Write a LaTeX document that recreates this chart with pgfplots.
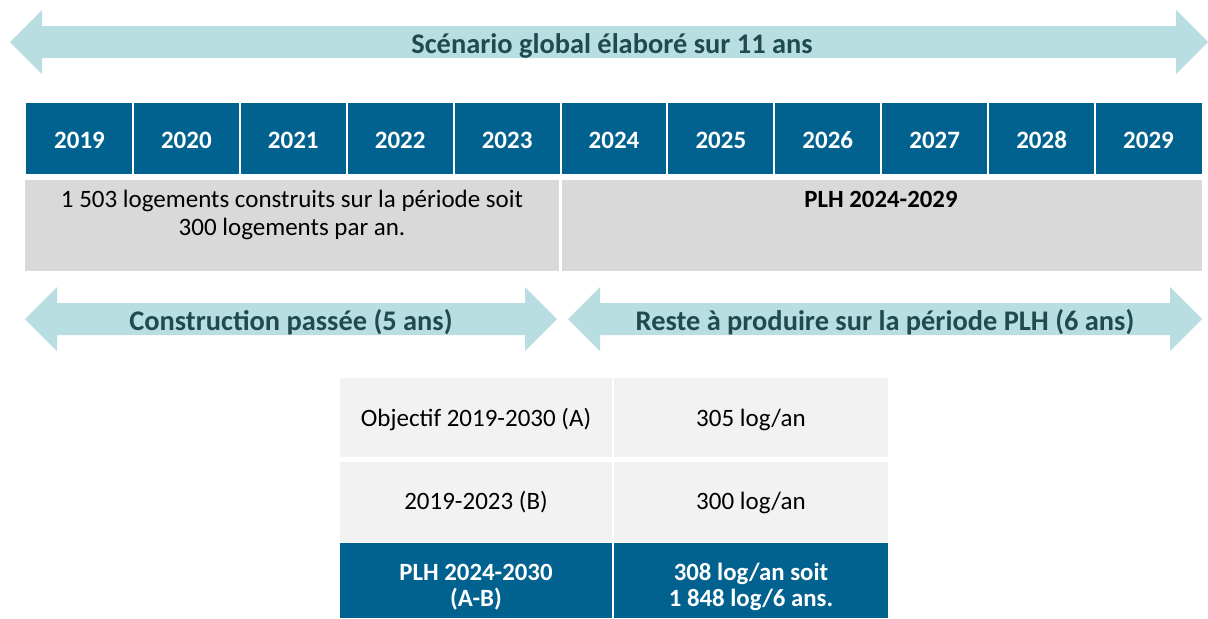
\documentclass[border=0pt]{standalone}
\usepackage{pgfplots}
\pgfplotsset{compat=1.18}
\usepackage{fontspec}
\setmainfont{Carlito}
\definecolor{arrowc}{HTML}{B9DEE2}
\definecolor{arrowt}{HTML}{1F4A4F}
\definecolor{blueC}{HTML}{01628F}
\definecolor{grayC}{HTML}{D9D9D9}
\definecolor{lgray}{HTML}{F2F2F2}
\begin{document}
\begin{tikzpicture}
\begin{axis}[
  x=0.5pt, y=0.5pt, y dir=reverse,
  xmin=0, xmax=1208, ymin=0, ymax=618,
  hide axis, clip=false, scale only axis, no markers,
  every axis plot/.append style={draw=none},
]
% background
\addplot[fill=white] coordinates {(0,0)(1208,0)(1208,618)(0,618)} --cycle;
% top double arrow
\addplot[fill=arrowc] coordinates {(10,42)(42,10)(42,26)(1176,26)(1176,10)(1208,42)(1176,74)(1176,58)(42,58)(42,74)} --cycle;
% year band
\addplot[fill=blueC] coordinates {(26,103)(1202,103)(1202,174)(26,174)} --cycle;
\pgfplotsinvokeforeach{132.9,239.8,346.7,453.6,560.5,667.4,774.3,881.2,988.1,1095}{
  \addplot[draw=white, line width=1pt] coordinates {(#1,100)(#1,177)};
}
% gray boxes
\addplot[fill=grayC] coordinates {(25,180)(559,180)(559,271)(25,271)} --cycle;
\addplot[fill=grayC] coordinates {(562,180)(1202,180)(1202,271)(562,271)} --cycle;
% lower arrows
\addplot[fill=arrowc] coordinates {(25,319)(57,287)(57,303)(525,303)(525,287)(557,319)(525,351)(525,335)(57,335)(57,351)} --cycle;
\addplot[fill=arrowc] coordinates {(568,319)(600,287)(600,303)(1170,303)(1170,287)(1202,319)(1170,351)(1170,335)(600,335)(600,351)} --cycle;
% table
\addplot[fill=lgray] coordinates {(340,378)(612,378)(612,457)(340,457)} --cycle;
\addplot[fill=lgray] coordinates {(614,378)(888,378)(888,457)(614,457)} --cycle;
\addplot[fill=lgray] coordinates {(340,462)(612,462)(612,542)(340,542)} --cycle;
\addplot[fill=lgray] coordinates {(614,462)(888,462)(888,542)(614,542)} --cycle;
\addplot[fill=blueC] coordinates {(340,543)(612,543)(612,618)(340,618)} --cycle;
\addplot[fill=blueC] coordinates {(614,543)(888,543)(888,618)(614,618)} --cycle;

% texts
\begin{scope}[every node/.style={inner sep=0pt, anchor=base}]
\node[text=arrowt, font=\fontsize{14.2}{16}\selectfont\bfseries] at (axis cs:612,53) {Scénario global élaboré sur 11 ans};
\node[text=white, font=\fontsize{12.5}{14}\selectfont\bfseries] at (axis cs:79.5,148) {2019};
\node[text=white, font=\fontsize{12.5}{14}\selectfont\bfseries] at (axis cs:186.4,148) {2020};
\node[text=white, font=\fontsize{12.5}{14}\selectfont\bfseries] at (axis cs:293.3,148) {2021};
\node[text=white, font=\fontsize{12.5}{14}\selectfont\bfseries] at (axis cs:400.2,148) {2022};
\node[text=white, font=\fontsize{12.5}{14}\selectfont\bfseries] at (axis cs:507.1,148) {2023};
\node[text=white, font=\fontsize{12.5}{14}\selectfont\bfseries] at (axis cs:614,148) {2024};
\node[text=white, font=\fontsize{12.5}{14}\selectfont\bfseries] at (axis cs:720.9,148) {2025};
\node[text=white, font=\fontsize{12.5}{14}\selectfont\bfseries] at (axis cs:827.8,148) {2026};
\node[text=white, font=\fontsize{12.5}{14}\selectfont\bfseries] at (axis cs:934.7,148) {2027};
\node[text=white, font=\fontsize{12.5}{14}\selectfont\bfseries] at (axis cs:1041.6,148) {2028};
\node[text=white, font=\fontsize{12.5}{14}\selectfont\bfseries] at (axis cs:1148.5,148) {2029};
\node[font=\fontsize{12.5}{14}\selectfont] at (axis cs:292,207) {1 503 logements construits sur la période soit};
\node[font=\fontsize{12.5}{14}\selectfont] at (axis cs:292,235) {300 logements par an.};
\node[font=\fontsize{12.4}{14}\selectfont\bfseries] at (axis cs:881,207) {PLH 2024-2029};
\node[text=arrowt, font=\fontsize{14.2}{16}\selectfont\bfseries] at (axis cs:291,330) {Construction passée (5 ans)};
\node[text=arrowt, font=\fontsize{14.2}{16}\selectfont\bfseries] at (axis cs:885,330) {Reste à produire sur la période PLH (6 ans)};
\node[font=\fontsize{12.5}{14}\selectfont] at (axis cs:476,426) {Objectif 2019-2030 (A)};
\node[font=\fontsize{12.5}{14}\selectfont] at (axis cs:751,426) {305 log/an};
\node[font=\fontsize{12.5}{14}\selectfont] at (axis cs:476,509) {2019-2023 (B)};
\node[font=\fontsize{12.5}{14}\selectfont] at (axis cs:751,509) {300 log/an};
\node[text=white, font=\fontsize{12.4}{14}\selectfont\bfseries] at (axis cs:476,580) {PLH 2024-2030};
\node[text=white, font=\fontsize{12.4}{14}\selectfont\bfseries] at (axis cs:476,606) {(A-B)};
\node[text=white, font=\fontsize{12.4}{14}\selectfont\bfseries] at (axis cs:751,580) {308 log/an soit};
\node[text=white, font=\fontsize{12.4}{14}\selectfont\bfseries] at (axis cs:751,606) {1 848 log/6 ans.};
\end{scope}
\end{axis}
\end{tikzpicture}
\end{document}
